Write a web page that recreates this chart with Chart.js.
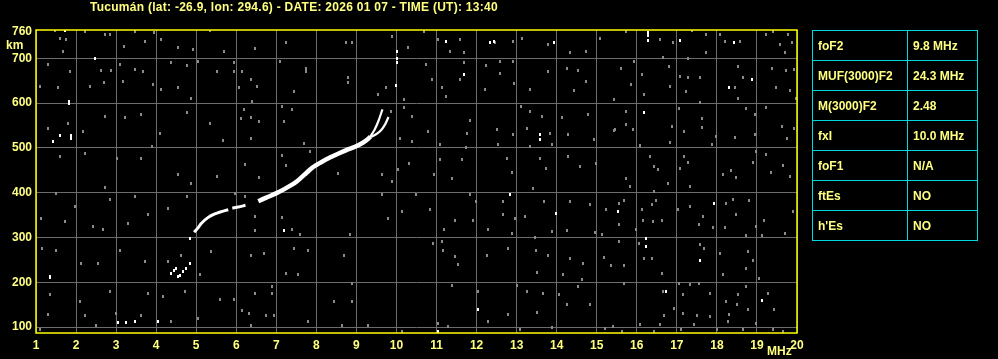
<!DOCTYPE html>
<html>
<head>
<meta charset="utf-8">
<script src="https://cdn.jsdelivr.net/npm/chart.js@4.4.1/dist/chart.umd.min.js"></script>
<style>
  body { margin: 0; background: #000; width: 998px; height: 359px; overflow: hidden; position: relative; font-family: "Liberation Sans", Arial, sans-serif; }
  #title { position: absolute; left: 90px; top: 0px; color: #ffff80; font-weight: bold; font-size: 12px; letter-spacing: 0.27px; white-space: nowrap; }
  .lbl { position: absolute; color: #ffff80; font-weight: bold; font-size: 12px; }
  #params { position: absolute; left: 812px; top: 30px; border-collapse: collapse; }
  #params td { border: 1px solid #00d8e0; color: #ffff80; font-weight: bold; font-size: 12px; height: 29px; padding: 0 0 0 5px; }
  #params td.k { width: 89px; }
  #params td.v { width: 64px; }
</style>
</head>
<body>
<div id="title">Tucumán (lat: -26.9, lon: 294.6) - DATE: 2026 01 07 - TIME (UT): 13:40</div>
<div class="lbl" style="left:6px; top:38px;">km</div>
<div class="lbl" style="left:767px; top:344px;">MHz</div>
<canvas id="chart" width="998" height="359"></canvas>
<table id="params"></table>
<script>
// scaled parameters shown in the table on the right
const paramNames = ["foF2", "MUF(3000)F2", "M(3000)F2", "fxI", "foF1", "ftEs", "h'Es"];
const paramValues = ["9.8 MHz", "24.3 MHz", "2.48", "10.0 MHz", "N/A", "NO", "NO"];

// axis ticks
const freqTicks = [1,2,3,4,5,6,7,8,9,10,11,12,13,14,15,16,17,18,19,20];
const heightTicks = [100,200,300,400,500,600,700,760];

// F2 trace (MHz, km)
const traceLow = [[4.95,312],[5.05,322],[5.13,332],[5.3,345],[5.45,352],[5.6,357],[5.8,362]];
const traceMid = [[5.9,366],[6.05,368],[6.23,372]];
const traceMain = [[6.55,381],[6.75,389],[6.98,398],[7.2,408],[7.48,423],[7.6,432],[7.75,444],[7.9,456],
                   [8.1,467],[8.35,479],[8.57,488],[8.75,495],[8.98,503],[9.15,511],[9.25,517],[9.35,525]];
const branchO = [[9.35,526],[9.45,540],[9.55,560],[9.65,586]];
const branchX = [[9.35,524],[9.5,531],[9.62,540],[9.72,553],[9.8,569]];

// isolated strong echoes (white)
const echoes = [[4.38,220],[4.45,226],[4.5,230],[4.55,213],[4.6,215],[4.68,224],[4.75,232],[4.84,242],[4.84,298],
  [1.83,604],[1.83,600],[1.43,515],[1.6,527],[1.88,520],[1.88,528],[1.34,213],[1.34,210],[1.73,762],[2.48,700],
  [3.05,110],[3.25,110],[3.47,112],[4.05,112],[10.02,690],[10.02,700],[10.02,715],[9.98,640],[7.19,315],
  [11.23,738],[11.68,663],[12.33,735],[12.43,738],[13.93,734],[13.58,530],[13.58,518],[12.83,395],[13.98,354],
  [12.03,140],[11.04,90],[16.29,740],[16.29,750],[16.29,758],[17.08,740],[18.43,735],[18.88,652],[18.29,634],
  [16.19,580],[17.94,377],[15.54,358],[16.23,298],[16.23,280],[17.58,248],[16.73,179],[19.13,160]];

// background noise (grey)
const noise = [
  [1.47,762],[1.59,745],[1.76,742],[1.68,716],[2.23,760],[2.73,753],[2.84,753],[3.2,727],[3.47,760],[3.72,738],
  [3.95,757],[4.13,742],[4.55,723],[4.93,719],[5.34,762],[5.7,716],[1.3,687],[1.84,671],[2.63,672],[2.88,672],
  [3.09,686],[3.47,675],[3.68,671],[4.38,690],[4.76,684],[5.05,693],[5.53,671],[1.09,637],[1.55,635],[2.34,637],
  [2.7,645],[3.18,649],[3.93,641],[4.13,630],[4.55,635],[4.88,611],[1.3,544],[1.8,555],[2.18,537],[2.72,570],
  [3.22,568],[3.63,574],[4.09,531],[4.76,578],[5.34,555],[5.68,516],[1.59,481],[2.22,488],[3.01,477],[3.63,477],
  [3.9,503],[4.55,440],[4.88,421],[5.51,436],[2.72,412],[1.51,399],[1.97,369],[2.84,384],[3.47,391],[4.3,365],
  [4.76,391],[1.13,343],[1.72,336],[2.43,324],[2.68,317],[3.3,332],[3.8,351],[1.15,276],[1.51,272],[2.13,243],
  [2.55,241],[3.09,272],[3.72,246],[4.3,246],[4.63,261],[5.09,218],[5.38,269],[1.34,172],[2.09,157],[2.84,179],
  [3.8,175],[4.18,168],[4.72,179],[5.59,161],[1.3,129],[2.22,127],[3.0,131],[3.63,127],[4.38,112],[5.05,120],
  [2.51,103],[1.09,94],
  [6.48,722],[7.23,734],[8.73,734],[8.9,734],[9.9,749],[10.28,723],[5.94,690],[5.94,671],[6.15,671],[7.08,692],
  [7.73,678],[7.73,671],[8.78,656],[8.78,645],[6.36,652],[6.53,637],[7.44,626],[6.4,604],[6.07,634],[9.53,619],
  [9.73,634],[10.19,608],[7.15,593],[7.4,585],[6.19,585],[6.36,567],[6.57,559],[6.11,565],[6.38,522],[7.19,559],
  [9.86,582],[10.19,589],[10.4,570],[10.38,515],[10.08,522],[7.69,509],[7.83,491],[7.13,482],[6.23,464],[6.58,433],
  [7.23,460],[8.55,442],[9.63,441],[9.88,425],[10.32,465],[10.03,452],[5.98,399],[6.23,392],[9.65,395],[10.48,395],
  [10.13,358],[9.8,342],[6.48,347],[6.48,315],[7.13,345],[7.4,319],[7.58,306],[8.83,306],[8.69,261],[7.44,276],
  [7.79,270],[6.69,265],[6.38,260],[7.23,220],[7.55,217],[6.9,190],[6.48,176],[6.88,176],[6.15,138],[6.33,131],
  [6.73,127],[6.95,127],[8.44,157],[8.9,157],[8.9,198],[7.78,112],[8.65,103],[9.3,103],[10.15,90],[6.36,103],[5.94,161],
  [10.69,760],[11.04,742],[11.58,742],[11.33,714],[11.68,712],[12.46,734],[12.92,738],[13.13,745],[13.79,731],[14.33,712],
  [14.73,714],[15.08,745],[10.73,686],[11.68,690],[12.23,684],[12.58,692],[12.92,693],[12.58,667],[13.79,671],[14.25,678],
  [14.53,672],[14.73,649],[10.88,652],[11.13,634],[11.58,652],[12.21,630],[12.93,643],[13.33,630],[14.43,628],[11.23,615],
  [15.42,608],[13.1,593],[13.33,581],[13.63,570],[14.13,567],[14.79,575],[11.83,561],[12.52,541],[12.92,529],[13.25,544],
  [13.83,533],[14.29,529],[14.92,518],[15.46,541],[10.79,537],[11.75,533],[11.08,507],[11.73,500],[12.54,507],[12.75,477],
  [13.33,503],[13.88,507],[11.08,474],[14.29,481],[11.63,474],[13.58,477],[13.73,453],[10.93,440],[11.38,432],[12.88,444],
  [13.42,410],[14.58,458],[14.98,466],[11.83,395],[11.98,380],[12.65,380],[12.65,351],[12.96,343],[13.21,347],[13.68,380],
  [14.33,380],[14.83,373],[15.23,362],[10.83,362],[11.46,339],[11.92,339],[12.29,317],[12.88,309],[13.46,300],[13.88,313],
  [14.27,315],[14.96,312],[15.14,306],[11.18,317],[10.9,287],[11.13,291],[11.17,270],[11.46,257],[11.54,239],[12.27,261],
  [12.79,275],[13.48,270],[13.79,261],[14.33,254],[14.65,243],[15.17,255],[13.5,222],[14.17,218],[14.63,207],[11.39,194],
  [12.04,179],[13.02,194],[13.25,179],[13.67,176],[14.07,172],[14.54,190],[14.25,150],[14.83,151],[12.79,129],[13.5,133],
  [13.89,100],[11.04,109],[11.29,101],[12.29,112],[13.08,94],[15.21,97],
  [15.73,760],[16.58,742],[16.9,734],[17.38,762],[17.73,753],[18.07,753],[17.73,712],[18.19,738],[18.58,738],[19.23,753],
  [19.4,760],[19.78,753],[19.58,731],[19.88,734],[19.69,712],[15.94,693],[15.61,678],[16.65,702],[17.29,700],[16.8,682],
  [17.08,660],[17.29,656],[17.58,656],[18.53,682],[18.65,656],[19.38,678],[19.72,672],[19.93,675],[16.13,663],[16.83,637],
  [17.23,626],[18.44,635],[18.53,611],[19.48,634],[19.82,627],[19.98,611],[16.19,620],[15.86,641],[15.44,608],[17.58,602],
  [17.05,587],[17.63,565],[18.72,587],[18.94,574],[19.23,590],[19.63,548],[19.93,544],[15.73,582],[15.73,552],[15.9,541],
  [15.44,538],[16.88,548],[17.18,537],[17.63,546],[17.98,526],[18.44,524],[18.94,529],[16.08,506],[16.83,512],[17.88,507],
  [18.98,491],[19.23,485],[19.76,521],[16.33,481],[16.44,458],[16.54,451],[17.19,481],[17.29,468],[17.09,455],[18.15,440],
  [18.34,450],[18.48,433],[18.9,468],[19.65,460],[19.83,436],[19.34,446],[15.73,432],[15.84,414],[16.44,403],[16.78,421],
  [17.33,414],[15.55,377],[15.69,382],[16.13,362],[16.38,373],[16.48,383],[17.04,362],[17.33,369],[17.65,348],[18.22,377],
  [18.39,385],[18.48,351],[18.8,382],[18.98,325],[19.18,337],[19.69,310],[19.9,359],[15.55,330],[15.98,317],[16.15,339],
  [16.4,336],[16.63,337],[17.55,328],[17.9,322],[18.19,322],[18.72,304],[19.13,304],[15.55,291],[16.05,287],[16.19,254],
  [16.38,253],[16.63,220],[17.58,284],[17.69,276],[18.08,265],[18.15,218],[18.78,269],[18.89,248],[18.73,230],[19.05,208],
  [15.35,237],[15.69,237],[15.69,198],[17.05,198],[17.32,195],[17.55,198],[16.65,179],[17.15,172],[17.82,176],[18.53,172],
  [18.73,190],[19.28,176],[18.23,157],[18.5,150],[19.43,139],[16.69,127],[17.15,131],[17.5,126],[17.84,124],[18.3,129],
  [18.78,139],[16.58,105],[16.94,142],[17.44,105],[18.28,112],[18.98,108],[16.07,105],[15.4,101],[15.63,90],[16.44,90],
  [17.11,94],[18.01,94],[18.65,94],[19.4,94],[19.65,90]
];

// fill the parameter table
const table = document.getElementById("params");
paramNames.forEach((name, i) => {
  const row = table.insertRow();
  const k = row.insertCell(); k.className = "k"; k.textContent = name;
  const v = row.insertCell(); v.className = "v"; v.textContent = paramValues[i];
});

// little pixel blocks used as point styles
function block(color, w, h) {
  const c = document.createElement("canvas");
  c.width = w; c.height = h;
  const g = c.getContext("2d");
  g.fillStyle = color;
  g.fillRect(0, 0, w, h);
  return c;
}
const greyDot = block("#8a8a8a", 2, 3);
const whiteDot = block("#ffffff", 2, 3);

const toXY = p => ({x: p[0], y: p[1]});
const GRID = "#6c6c6c";
const YELLOW = "#ffff80";

function traceSet(pts, width) {
  return {
    type: "line", data: pts.map(toXY), borderColor: "#ffffff", borderWidth: width,
    pointRadius: 0, tension: 0.3, borderCapStyle: "butt", fill: false
  };
}

// yellow frame round the plot area
const framePlugin = {
  id: "frame",
  afterDraw(chart) {
    const a = chart.chartArea, ctx = chart.ctx;
    ctx.save();
    ctx.strokeStyle = "#ffff00";
    ctx.lineWidth = 1.5;
    ctx.strokeRect(a.left, a.top, a.right - a.left, a.bottom - a.top);
    ctx.restore();
  }
};

new Chart(document.getElementById("chart"), {
  type: "scatter",
  data: {
    datasets: [
      traceSet(traceMain, 4.5),
      traceSet(traceLow, 3),
      traceSet(traceMid, 3),
      traceSet(branchO, 2.2),
      traceSet(branchX, 2.2),
      {data: echoes.map(toXY), pointStyle: whiteDot, pointRadius: 2, showLine: false},
      {data: noise.map(toXY), pointStyle: greyDot, pointRadius: 2, showLine: false}
    ]
  },
  options: {
    responsive: false,
    animation: false,
    events: [],
    layout: {padding: {left: 0, right: 201, top: 30, bottom: 0}},
    plugins: {legend: {display: false}, tooltip: {enabled: false}},
    scales: {
      x: {
        type: "linear", min: 1, max: 20,
        afterBuildTicks: s => { s.ticks = freqTicks.map(v => ({value: v})); },
        afterFit: s => { s.height = 26; },
        grid: {color: GRID, lineWidth: 1, drawTicks: false},
        border: {display: false},
        ticks: {color: YELLOW, padding: 5, maxRotation: 0, autoSkip: false,
                font: {family: "Liberation Sans", size: 12, weight: "bold"}}
      },
      y: {
        type: "linear", min: 87, max: 763,
        afterBuildTicks: s => { s.ticks = heightTicks.map(v => ({value: v})); },
        afterFit: s => { s.width = 36; },
        grid: {color: c => (c.tick && c.tick.value === 760) ? "rgba(0,0,0,0)" : GRID, lineWidth: 1, drawTicks: false},
        border: {display: false},
        ticks: {color: YELLOW, padding: 4, autoSkip: false,
                font: {family: "Liberation Sans", size: 12, weight: "bold"}}
      }
    }
  },
  plugins: [framePlugin]
});
</script>
</body>
</html>
